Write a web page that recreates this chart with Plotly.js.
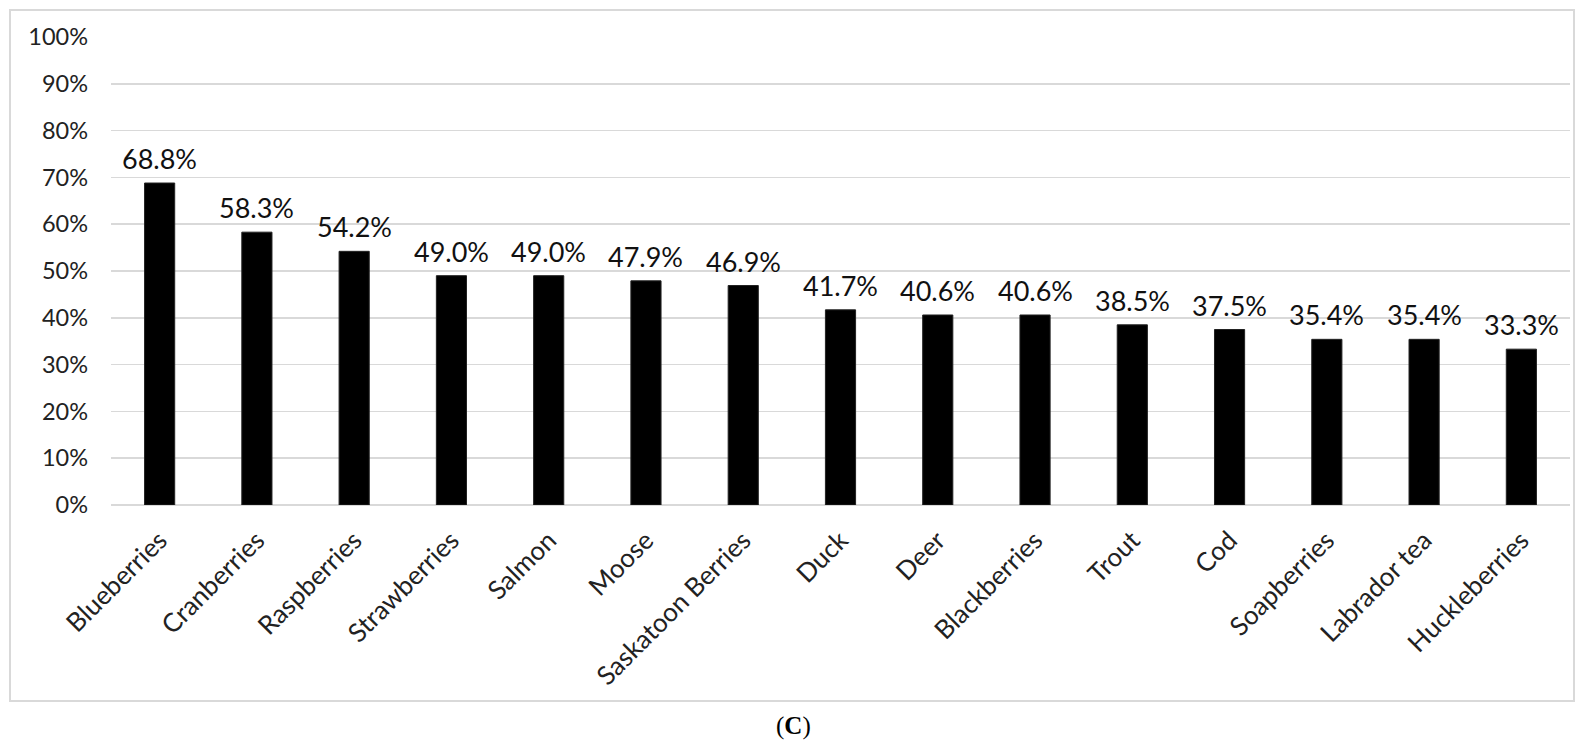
<!DOCTYPE html>
<html>
<head>
<meta charset="utf-8">
<script src="https://cdn.plot.ly/plotly-3.0.1.min.js"></script>
<style>
  html, body { margin: 0; padding: 0; background: #fff; }
  #chart { width: 1584px; height: 746px; }
</style>
</head>
<body>
<div id="chart"></div>
<script>
  // share of respondents per food item (%)
  const foods = ["Blueberries", "Cranberries", "Raspberries", "Strawberries", "Salmon",
    "Moose", "Saskatoon Berries", "Duck", "Deer", "Blackberries", "Trout", "Cod",
    "Soapberries", "Labrador tea", "Huckleberries"];
  const shares = [68.8, 58.3, 54.2, 49.0, 49.0, 47.9, 46.9, 41.7, 40.6, 40.6, 38.5, 37.5, 35.4, 35.4, 33.3];
  const yTicks = [0, 10, 20, 30, 40, 50, 60, 70, 80, 90, 100];

  // plot area in pixels: x 111..1570, y 37..505
  const L = 111, R = 1570, T = 37, B = 505;
  const px = p => (p - L) / (R - L);
  const py = p => (B - p) / (B - T);

  const data = [{
    type: "bar",
    x: foods,
    y: shares,
    marker: { color: "#000", line: { color: "#222", width: 1 } },
    hoverinfo: "x+y"
  }];

  // value labels above the bars (a bit more lift than bar text allows)
  const valueLabels = foods.map((f, i) => ({
    x: f, y: shares[i], xref: "x", yref: "y",
    text: shares[i].toFixed(1) + "%",
    showarrow: false,
    xanchor: "center", yanchor: "bottom",
    yshift: 6,
    font: { family: "Lato, sans-serif", size: 27, color: "#111" }
  }));

  const layout = {
    width: 1584,
    height: 746,
    margin: { l: L, r: 1584 - R, t: T, b: 746 - B },
    paper_bgcolor: "#fff",
    plot_bgcolor: "#fff",
    showlegend: false,
    bargap: 0.69,
    font: { family: "Lato, sans-serif", size: 22, color: "#222" },
    xaxis: {
      type: "category",
      tickangle: -45,
      showgrid: false,
      showline: false,
      ticks: "",
      ticklabelstandoff: 14,
      tickfont: { size: 26, color: "#222" },
      automargin: false
    },
    yaxis: {
      range: [0, 100],
      tickvals: yTicks,
      ticktext: yTicks.map(v => v + "%"),
      showgrid: true,
      gridcolor: "#d9d9d9",
      gridwidth: 1.5,
      zeroline: true,
      zerolinecolor: "#d9d9d9",
      zerolinewidth: 1.5,
      showline: false,
      ticks: "",
      ticklabelstandoff: 22,
      tickfont: { size: 23.5, color: "#222" },
      automargin: false
    },
    shapes: [{
      type: "rect",
      xref: "paper", yref: "paper",
      x0: px(10), x1: px(1574), y0: py(701), y1: py(10),
      line: { color: "#d9d9d9", width: 2 },
      fillcolor: "rgba(0,0,0,0)",
      layer: "below"
    }],
    annotations: valueLabels.concat([{
      xref: "paper", yref: "paper",
      x: px(793), y: py(726),
      xanchor: "center", yanchor: "middle",
      text: "(<b>C</b>)",
      showarrow: false,
      font: { family: "Liberation Serif, serif", size: 25, color: "#000" }
    }])
  };

  Plotly.newPlot("chart", data, layout, { displayModeBar: false, staticPlot: true });
</script>
</body>
</html>
